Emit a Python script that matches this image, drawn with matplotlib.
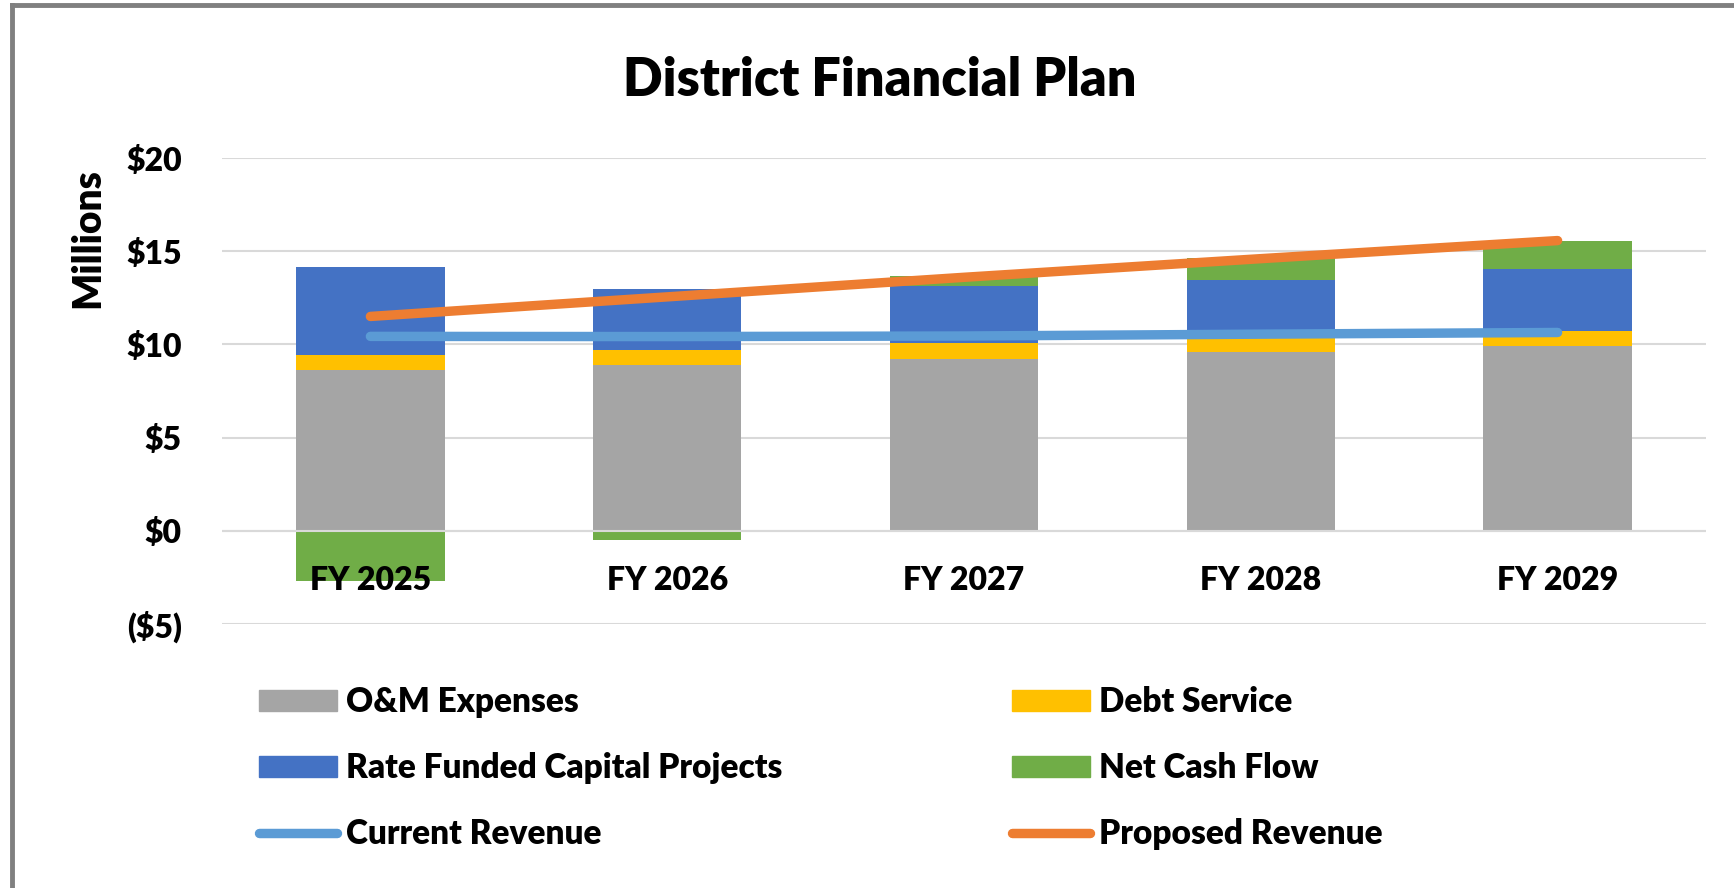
import matplotlib
matplotlib.use("Agg")
import matplotlib.pyplot as plt
from matplotlib.lines import Line2D
from matplotlib.patches import Patch
from matplotlib.ticker import FuncFormatter
import numpy as np

# data ($ millions)
years = ["FY 2025", "FY 2026", "FY 2027", "FY 2028", "FY 2029"]
om_expenses = [8.60, 8.90, 9.21, 9.60, 9.92]
debt_service = [0.83, 0.82, 0.86, 0.80, 0.79]
capital_projects = [4.72, 3.27, 3.04, 3.07, 3.36]
net_cash_flow = [-2.67, -0.50, 0.57, 1.15, 1.49]
current_revenue = [10.43, 10.42, 10.45, 10.55, 10.64]
proposed_revenue = [11.50, 12.55, 13.60, 14.60, 15.57]

c_om = "#A5A5A5"
c_debt = "#FFC000"
c_cap = "#4472C4"
c_net = "#70AD47"
c_cur = "#5B9BD5"
c_prop = "#ED7D31"

WEIGHT = "heavy"
plt.rcParams["font.family"] = ["Lato", "DejaVu Sans"]
plt.rcParams["font.weight"] = WEIGHT

W, H = 1734, 888
fig = plt.figure(figsize=(W / 100, H / 100), dpi=100)
ax = fig.add_axes([222 / W, 1 - 624 / H, 1484 / W, 466 / H])

x = np.arange(len(years))
om = np.array(om_expenses)
debt = np.array(debt_service)
cap = np.array(capital_projects)
net = np.array(net_cash_flow)

# stacked bars
ax.bar(x, om, 0.5, color=c_om, zorder=2)
ax.bar(x, debt, 0.5, bottom=om, color=c_debt, zorder=2)
ax.bar(x, cap, 0.5, bottom=om + debt, color=c_cap, zorder=2)
net_bottom = np.where(net >= 0, om + debt + cap, 0)
ax.bar(x, net, 0.5, bottom=net_bottom, color=c_net, zorder=2)

# revenue lines
ax.plot(x, current_revenue, color=c_cur, lw=6.8, solid_capstyle="round", zorder=4)
ax.plot(x, proposed_revenue, color=c_prop, lw=6.8, solid_capstyle="round", zorder=4)

ax.set_xlim(-0.5, 4.5)
ax.set_ylim(-5, 20)
ax.set_yticks([-5, 0, 5, 10, 15, 20])
ax.yaxis.set_major_formatter(FuncFormatter(lambda v, p: f"${v:.0f}" if v >= 0 else f"(${-v:.0f})"))
ax.set_xticks(x)
ax.set_xticklabels(years)
ax.grid(axis="y", color="#D9D9D9", lw=1.5)
ax.axhline(0, color="#D9D9D9", lw=1.5, zorder=3)
ax.set_axisbelow(True)
ax.xaxis.set_zorder(5)  # category labels sit on top of the negative bars
for s in ax.spines.values():
    s.set_visible(False)
ax.spines["bottom"].set_position(("data", 0))
ax.tick_params(axis="y", length=0, pad=29, labelsize=23)
ax.tick_params(axis="x", length=0, pad=25, labelsize=23)

# title and axis label
fig.text(880 / W, 1 - 96 / H, "District Financial Plan", ha="center", va="baseline",
         fontsize=37.5, fontweight=WEIGHT)
fig.text(88 / W, 1 - 238 / H, "Millions", ha="center", va="center", rotation=90,
         fontsize=28, fontweight=WEIGHT)

# legend, two columns
lw_leg = dict(lw=6.8, solid_capstyle="round")
col1 = [Patch(color=c_om, label="O&M Expenses"),
        Patch(color=c_cap, label="Rate Funded Capital Projects"),
        Line2D([0], [0], color=c_cur, label="Current Revenue", **lw_leg)]
col2 = [Patch(color=c_debt, label="Debt Service"),
        Patch(color=c_net, label="Net Cash Flow"),
        Line2D([0], [0], color=c_prop, label="Proposed Revenue", **lw_leg)]
leg_kw = dict(loc="center left", frameon=False, fontsize=24, borderpad=0, borderaxespad=0,
              handlelength=2.34, handleheight=0.6, handletextpad=0.27, labelspacing=1.02)
fig.legend(handles=col1, bbox_to_anchor=(259 / W, 1 - 768 / H), **leg_kw)
fig.legend(handles=col2, bbox_to_anchor=(1012 / W, 1 - 768 / H), **leg_kw)

# outer chart border (top and left visible)
fig.add_artist(Line2D([12 / W, 1], [1 - 5 / H, 1 - 5 / H], color="#808080", lw=3.5,
                      transform=fig.transFigure))
fig.add_artist(Line2D([12 / W, 12 / W], [0, 1 - 5 / H], color="#808080", lw=3.5,
                      transform=fig.transFigure))

fig.savefig("out.png", dpi=100)
